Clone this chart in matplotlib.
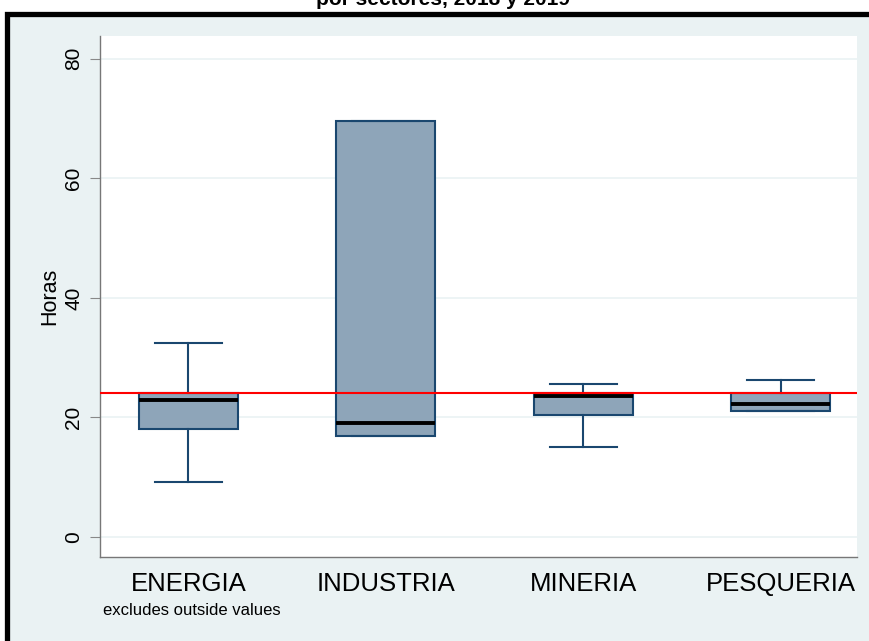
import matplotlib
matplotlib.use('Agg')
from matplotlib import pyplot as plt
from matplotlib.patches import Rectangle

# datos (horas semanales por sector)
sectores = ["ENERGIA", "INDUSTRIA", "MINERIA", "PESQUERIA"]
q1 = [18.1, 16.9, 20.4, 21.1]
mediana = [22.9, 19.1, 23.6, 22.3]
q3 = [24.1, 69.6, 24.1, 24.1]
bigote_bajo = [9.2, 16.9, 15.1, 21.1]
bigote_alto = [32.5, 69.6, 25.6, 26.3]
limite = 24

plt.rcParams['font.family'] = ['Liberation Sans', 'DejaVu Sans']

fondo = '#eaf2f3'
navy = '#1a476f'

fig = plt.figure(figsize=(8.69, 6.41), dpi=100)
fig.patch.set_facecolor('white')

# marco negro del grafico (recortado)
fig.patches.append(Rectangle((7.5 / 869, -0.1), 1.2, 1.1 - 13.5 / 641, transform=fig.transFigure,
                             facecolor=fondo, edgecolor='black', linewidth=3.8, zorder=-5))

fig.text(443 / 869, 1 - 5 / 641, "por sectores, 2018 y 2019", ha='center', va='baseline',
         fontsize=15, fontweight='bold')

ax = fig.add_axes([100 / 869, 1 - 557 / 641, 757 / 869, 521 / 641])
ax.set_zorder(2)
ax.set_facecolor('white')

stats = []
for i in range(len(sectores)):
    stats.append({'med': mediana[i], 'q1': q1[i], 'q3': q3[i],
                  'whislo': bigote_bajo[i], 'whishi': bigote_alto[i], 'fliers': []})

pos = [1, 2, 3, 4]
ax.bxp(stats, positions=pos, widths=0.5, patch_artist=True, showfliers=False,
       boxprops=dict(facecolor='#8ea5b9', edgecolor=navy, linewidth=1.5),
       medianprops=dict(color='black', linewidth=2.8),
       whiskerprops=dict(color=navy, linewidth=1.5),
       capprops=dict(color=navy, linewidth=1.5), capwidths=0.34)

ax.axhline(limite, color='red', linewidth=1.5, zorder=3)

ax.set_xlim(0.553, 4.386)
ax.set_ylim(-3.35, 83.8)
ax.set_yticks([0, 20, 40, 60, 80])
ax.yaxis.grid(True, color=fondo, linewidth=1.2)
ax.set_axisbelow(True)
ax.set_yticklabels(['0', '20', '40', '60', '80'], rotation=90, va='center', fontsize=15)
ax.set_xticks(pos)
ax.set_xticklabels(sectores, fontsize=18.5)
ax.tick_params(axis='x', length=0, pad=11)
ax.tick_params(axis='y', length=7, color='#888888', pad=5)
ax.set_ylabel("Horas", fontsize=15.5, labelpad=3)

for s in ['top', 'right']:
    ax.spines[s].set_visible(False)
for s in ['left', 'bottom']:
    ax.spines[s].set_color('#777777')
    ax.spines[s].set_linewidth(1)

fig.text(103 / 869, 1 - 615 / 641, "excludes outside values", fontsize=12, ha='left', va='baseline')

fig.savefig('out.png', dpi=100)
